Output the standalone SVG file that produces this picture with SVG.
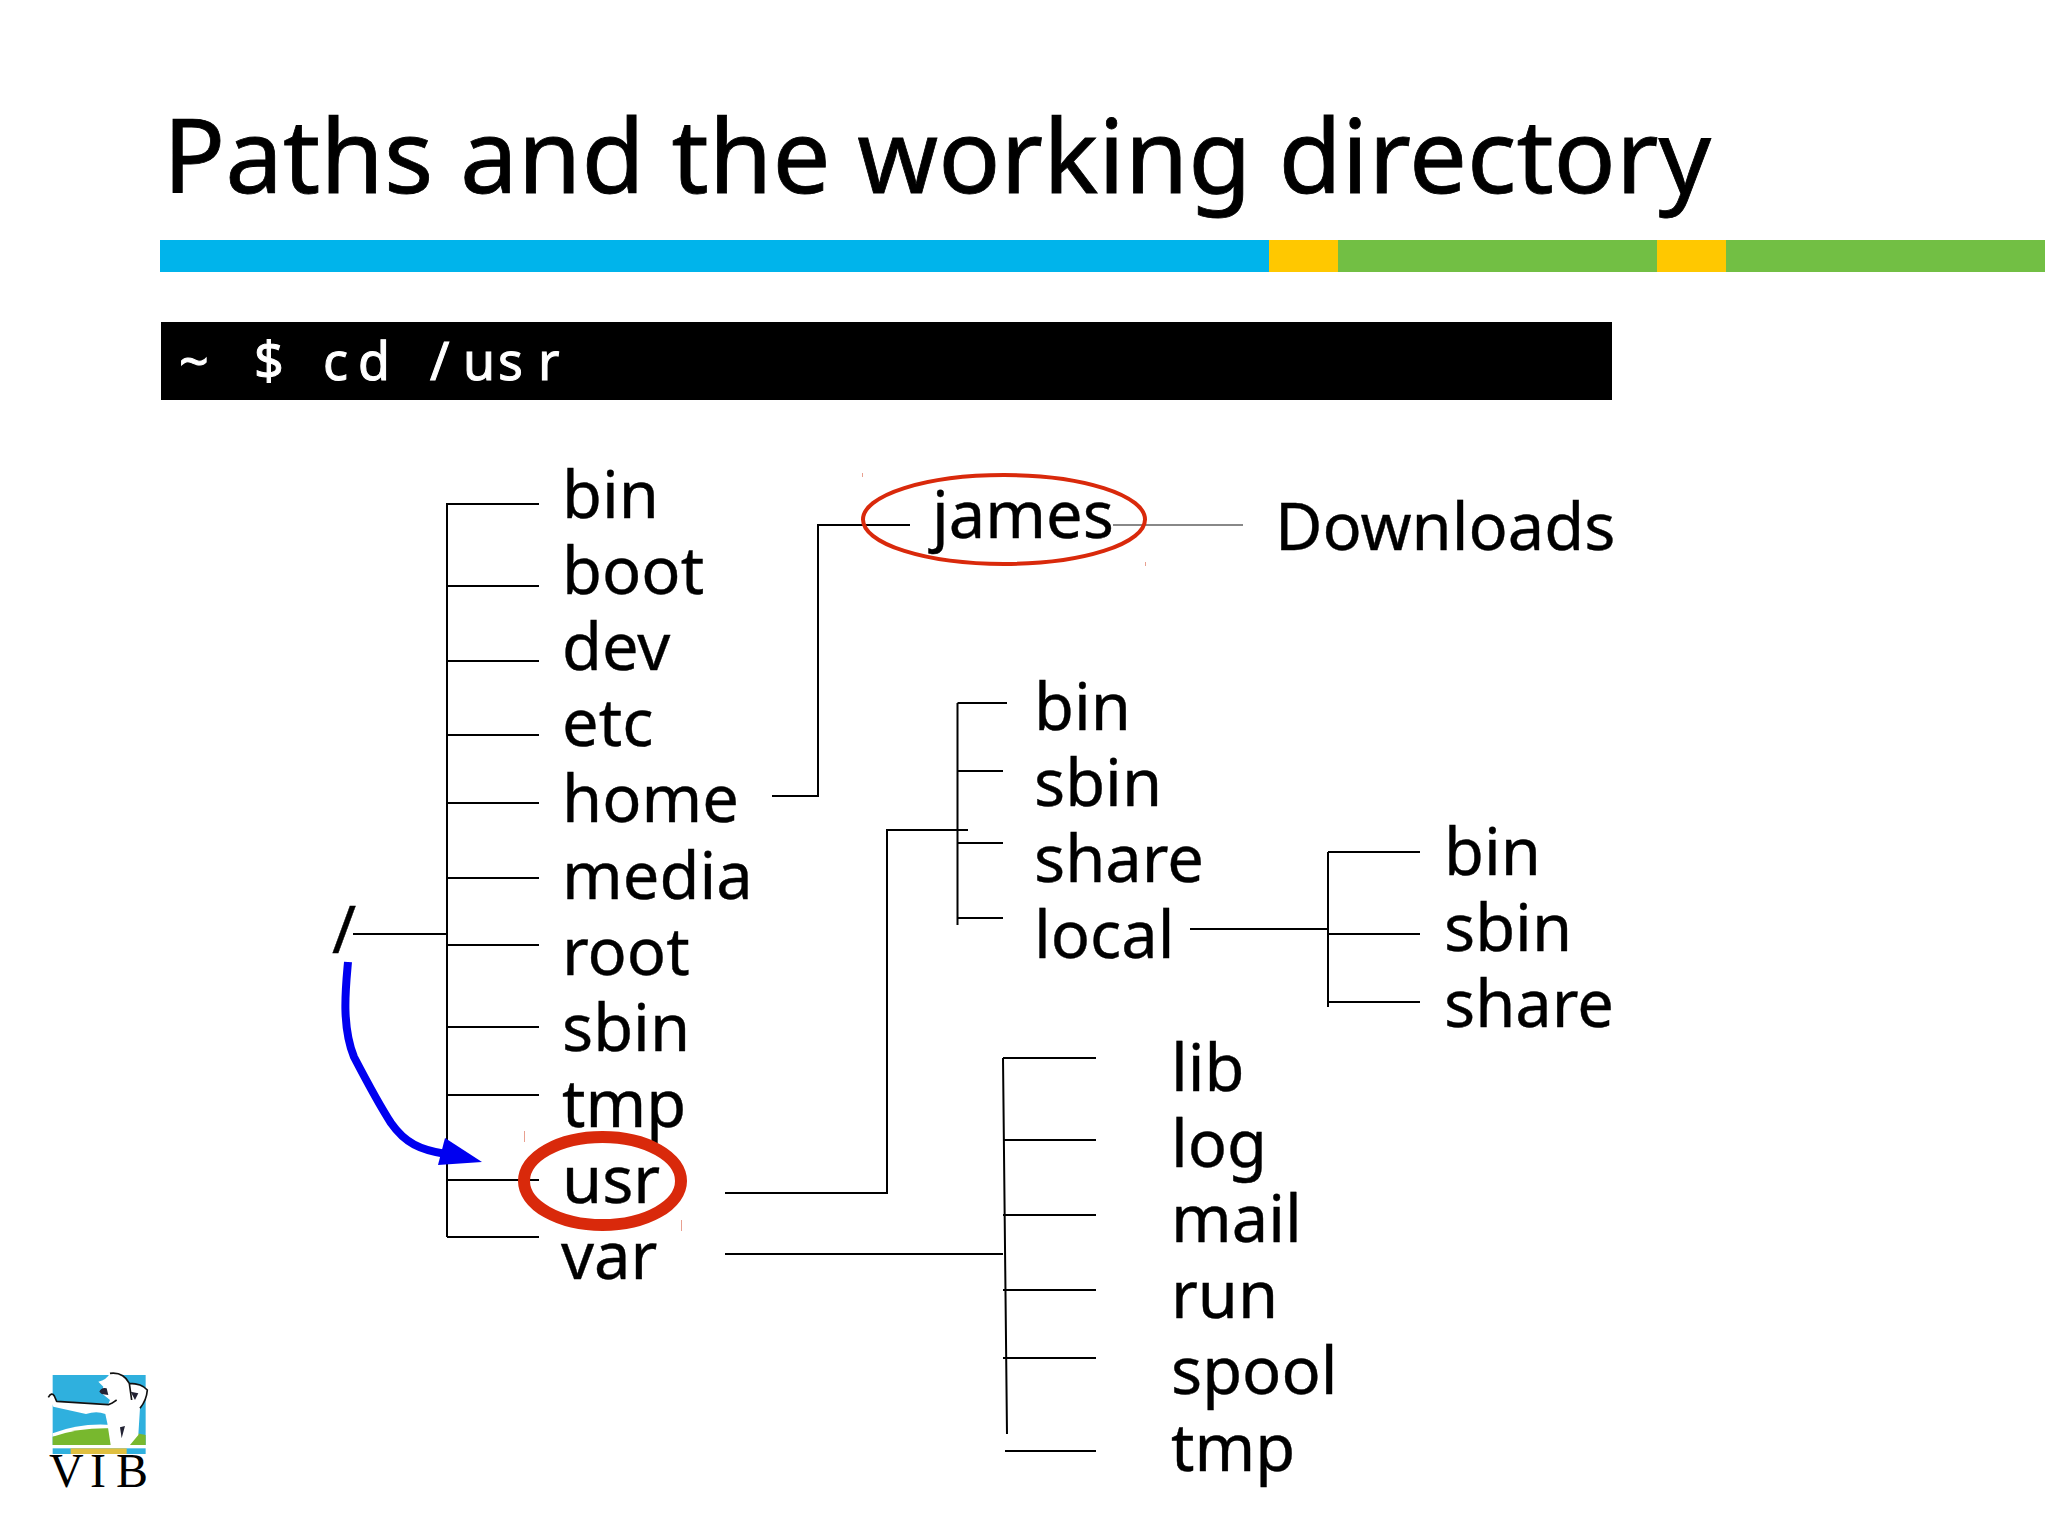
<svg xmlns="http://www.w3.org/2000/svg" width="2048" height="1536" viewBox="0 0 2048 1536">
<style>
text{font-family:"Noto Sans","Open Sans","DejaVu Sans",sans-serif;fill:#000}
.n{font-size:65px;stroke:#000;stroke-width:.4}
.c{stroke:#000;stroke-width:2;fill:none}
.t{fill:#e8a090}
</style>
<rect width="2048" height="1536" fill="#fff"/>
<g id="title"><text x="163" y="193" font-size="103" stroke="#000" stroke-width=".8">Paths and the working directory</text></g>
<g id="bar">
<rect x="160" y="240" width="1109" height="32" fill="#00b4eb"/>
<rect x="1269" y="240" width="69" height="32" fill="#ffc800"/>
<rect x="1338" y="240" width="319" height="32" fill="#72bf44"/>
<rect x="1657" y="240" width="69" height="32" fill="#ffc800"/>
<rect x="1726" y="240" width="319" height="32" fill="#72bf44"/>
</g>
<g id="command"><rect x="161" y="322" width="1451" height="78" fill="#000"/>
<text y="380" font-size="52" style="fill:#fff;stroke:#fff;stroke-width:1" x="179 254 323 358 430 463 498 538">~$cd/usr</text></g>
<g id="connectors">
<path class="c" d="M447 503V1237M447 504H539M447 586H539M447 661H539M447 735H539M447 803H539M447 878H539M447 945H539M447 1027H539M447 1095H539M447 1180H539M447 1237H539M353 934H447"/>
<path class="c" d="M772 796H818V525H910"/>
<path d="M1113 525H1243" stroke="#888" stroke-width="2" fill="none"/>
<path class="c" d="M725 1193H887V830H968M957.500 703V925M957.500 703H1007M957.500 771H1003M957.500 843H1003M957.500 918H1003"/>
<path class="c" d="M1190 929H1328M1328 852V1007M1328 852H1420M1328 934H1420M1328 1002H1420"/>
<path class="c" d="M725 1254H1003M1003 1058L1007 1434M1003 1058H1096M1003 1140H1096M1003 1215H1096M1003 1290H1096M1003 1358H1096M1005 1451H1096"/>
</g>
<g id="root"><text class="n" x="332" y="953">/</text></g>
<g id="n-bin"><text class="n" x="562" y="518">bin</text></g>
<g id="n-boot"><text class="n" x="562" y="594">boot</text></g>
<g id="n-dev"><text class="n" x="562" y="670">dev</text></g>
<g id="n-etc"><text class="n" x="562" y="746">etc</text></g>
<g id="n-home"><text class="n" x="562" y="822">home</text></g>
<g id="n-media"><text class="n" x="562" y="899">media</text></g>
<g id="n-root"><text class="n" x="562" y="975">root</text></g>
<g id="n-sbin"><text class="n" x="562" y="1051">sbin</text></g>
<g id="n-tmp"><text class="n" x="562" y="1127">tmp</text></g>
<g id="n-usr"><text class="n" x="562" y="1203">usr</text></g>
<g id="n-var"><text class="n" x="561" y="1279">var</text></g>
<g id="n-james"><text class="n" x="932" y="538">james</text></g>
<g id="n-downloads"><text class="n" x="1275" y="550">Downloads</text></g>
<g id="usr-bin"><text class="n" x="1034" y="730">bin</text></g>
<g id="usr-sbin"><text class="n" x="1034" y="806">sbin</text></g>
<g id="usr-share"><text class="n" x="1034" y="882">share</text></g>
<g id="usr-local"><text class="n" x="1034" y="958">local</text></g>
<g id="local-bin"><text class="n" x="1444" y="875">bin</text></g>
<g id="local-sbin"><text class="n" x="1444" y="951">sbin</text></g>
<g id="local-share"><text class="n" x="1444" y="1027">share</text></g>
<g id="var-lib"><text class="n" x="1171" y="1091">lib</text></g>
<g id="var-log"><text class="n" x="1171" y="1167">log</text></g>
<g id="var-mail"><text class="n" x="1171" y="1242">mail</text></g>
<g id="var-run"><text class="n" x="1171" y="1318">run</text></g>
<g id="var-spool"><text class="n" x="1171" y="1394">spool</text></g>
<g id="var-tmp"><text class="n" x="1171" y="1471">tmp</text></g>
<g id="highlight-usr"><ellipse cx="602.500" cy="1181" rx="78.500" ry="44" fill="none" stroke="#d9290b" stroke-width="12"/>
<rect class="t" x="524" y="1131" width="1" height="11"/><rect class="t" x="681" y="1220" width="1" height="11"/></g>
<g id="highlight-james"><ellipse cx="1004" cy="519.500" rx="141" ry="44.500" fill="none" stroke="#d9290b" stroke-width="4"/>
<rect class="t" x="862" y="473" width="1" height="4"/><rect class="t" x="1145" y="562" width="1" height="4"/></g>
<g id="arrow"><path d="M348 962C346 985 341 1025 354 1057C366 1080 378 1103 391 1123C405 1143 420 1150 446 1154" fill="none" stroke="#0000f0" stroke-width="8"/>
<polygon points="445,1138 482,1162 438,1165" fill="#0000f0"/></g>
<g id="logo" transform="translate(0 1340) scale(.3333)">
<rect x="158" y="105" width="279" height="210" fill="#2fb0de"/>
<path d="M158 290V280Q240 248 335 255V265Z" fill="#fff"/>
<path d="M158 315V290Q240 262 335 265L437 285V315Z" fill="#78b82e"/>
<path d="M145 170Q155 155 165 170L170 183L325 192L330 180L305 160L310 140L295 125Q320 120 330 100Q370 95 388 130Q425 130 442 150Q440 180 420 205L415 285L390 315H332L322 250L316 222Q290 212 258 222L160 200Z" fill="#fff"/>
<path d="M145 172Q155 155 163 168L170 184L325 194L335 190L350 180M330 100Q370 95 388 130Q425 130 442 150Q440 180 420 205M388 130L395 180" fill="none" stroke="#111" stroke-width="5" stroke-linejoin="round"/>
<path d="M298 155Q305 140 320 145L325 165L305 162Z M392 155L415 160L405 180Z M360 262L375 258L365 295Z" fill="#223"/>
<rect x="158" y="325" width="279" height="17" fill="#2fb0de"/>
<rect x="212" y="325" width="168" height="17" fill="#e0c040"/>
</g>
<g id="logo-text"><text y="1487" font-size="48" x="49 90 116" style='font-family:"Liberation Serif",serif'>VIB</text></g>
</svg>
